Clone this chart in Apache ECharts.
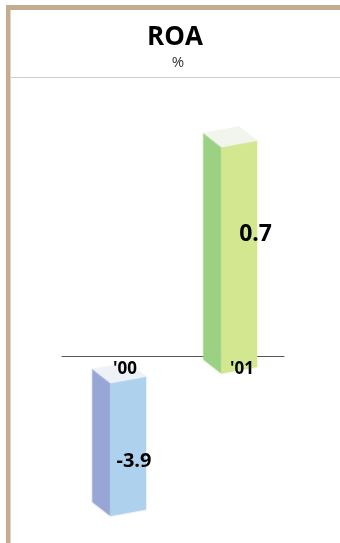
<!DOCTYPE html>
<html>
<head>
<meta charset="utf-8">
<style>html,body{margin:0;padding:0;background:#fff}#chart{width:340px;height:543px}</style>
<script src="https://cdn.jsdelivr.net/npm/echarts@6/dist/echarts.min.js"></script>
</head>
<body>
<div id="chart"></div>
<script>
// ROA by fiscal year, in percent
const years = ["'00", "'01"];
const roa = [-3.9, 0.7];

const chartTitle = 'ROA';
const chartUnit = '%';

// Palette for each prism: front, side and top faces
const blueFaces = { front: '#aed1ee', side: '#97a6d4', top: '#eef2f6' };
const greenFaces = { front: '#d3e690', side: '#9bd183', top: '#f2f5ee' };

// Prism proportions, in pixels
const FRONT_W = 35.5, SIDE_W = 18, FRONT_RISE = 6.5, SIDE_RISE = 14;
const UP_OVERHANG = 17, DOWN_GAP = 26.5;

function face(points, color) {
  return {
    type: 'polygon',
    shape: { points: points },
    style: { fill: color, shadowBlur: 2, shadowColor: color }
  };
}

function prism(faces, labelFont, labelDx, labelDy) {
  return function (params, api) {
    const cat = api.value(0), v = api.value(1);
    const zero = api.coord([cat, 0]);
    const end = api.coord([cat, v]);
    const x = zero[0] - 7;
    const top = v >= 0 ? end[1] : zero[1] + DOWN_GAP;
    const bottom = v >= 0 ? zero[1] + UP_OVERHANG : end[1];
    const xl = x - SIDE_W, xr = x + FRONT_W;
    return {
      type: 'group',
      children: [
        face([[xl, top - SIDE_RISE], [x, top], [x, bottom], [xl, bottom - SIDE_RISE]], faces.side),
        face([[x, top], [xr, top - FRONT_RISE], [xr, bottom - FRONT_RISE], [x, bottom]], faces.front),
        face([[xl, top - SIDE_RISE], [xl + FRONT_W, top - SIDE_RISE - FRONT_RISE], [xr, top - FRONT_RISE], [x, top]], faces.top),
        {
          type: 'text',
          x: xr + labelDx,
          y: (top + bottom) / 2 + labelDy,
          style: {
            text: String(v),
            font: labelFont,
            fill: '#000',
            align: 'right',
            verticalAlign: 'middle'
          }
        }
      ]
    };
  };
}

const chart = echarts.init(document.getElementById('chart'), null, { renderer: 'canvas' });
chart.setOption({
  animation: false,
  backgroundColor: '#fff',
  title: [
    {
      left: 170,
      top: 20,
      textAlign: 'center',
      text: chartTitle,
      textStyle: { fontFamily: 'Open Sans', fontSize: 26, fontWeight: 'bold', color: '#000' }
    },
    {
      left: 173,
      top: 50,
      textAlign: 'center',
      text: chartUnit,
      textStyle: { fontFamily: 'Open Sans', fontSize: 15, fontWeight: 'normal', color: '#333' }
    }
  ],
  graphic: [
    { type: 'rect', z: -1, shape: { x: 6, y: 5, width: 334, height: 5 }, style: { fill: '#c4ac90' } },
    { type: 'rect', z: -1, shape: { x: 6, y: 5, width: 4.5, height: 538 }, style: { fill: '#c4ac90' } },
    { type: 'rect', z: -1, shape: { x: 10.5, y: 77, width: 329.5, height: 1 }, style: { fill: '#cfcfcf' } }
  ],
  grid: { left: 62, top: 100, width: 222, height: 440 },
  xAxis: [
    {
      type: 'category',
      data: years,
      z: 1,
      axisTick: { show: false },
      axisLabel: { show: false },
      axisLine: { onZero: true, lineStyle: { color: '#555', width: 1 } }
    },
    {
      type: 'category',
      data: years,
      z: 10,
      axisTick: { show: false },
      axisLine: { show: false, onZero: false },
      offset: -278,
      axisLabel: {
        margin: 0,
        formatter: function (label, i) {
          return (i === 0 ? '{a|' : '{b|') + label + '}';
        },
        rich: {
          a: { fontFamily: 'Open Sans', fontSize: 17, fontWeight: 'bold', color: '#000', padding: [0, 0, 0, 15] },
          b: { fontFamily: 'Open Sans', fontSize: 17, fontWeight: 'bold', color: '#000', padding: [0, 0, 0, 27] }
        }
      }
    }
  ],
  yAxis: [
    { type: 'value', show: false, min: -0.613, max: 0.857, splitLine: { show: false } },
    { type: 'value', show: false, min: -4.487, max: 6.271, splitLine: { show: false } }
  ],
  series: [
    {
      type: 'custom',
      xAxisIndex: 0,
      yAxisIndex: 1,
      data: [[0, roa[0]]],
      encode: { x: 0, y: 1 },
      renderItem: prism(blueFaces, 'bold 20px "Open Sans"', 5.5, 11.5)
    },
    {
      type: 'custom',
      xAxisIndex: 0,
      yAxisIndex: 0,
      data: [[1, roa[1]]],
      encode: { x: 0, y: 1 },
      renderItem: prism(greenFaces, 'bold 23px "Open Sans"', 15, -26)
    }
  ]
});
</script>
</body>
</html>
